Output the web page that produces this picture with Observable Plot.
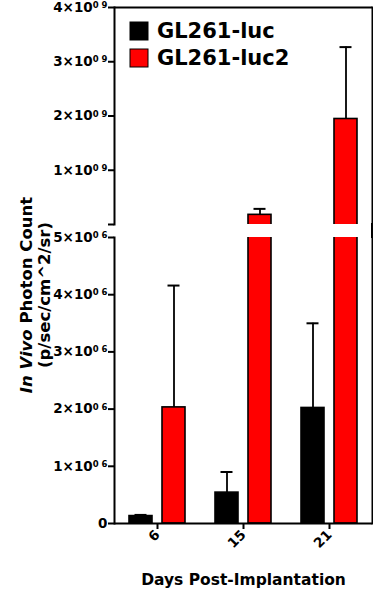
<!DOCTYPE html>
<html>
<head>
<meta charset="utf-8">
<script src="https://cdn.jsdelivr.net/npm/d3@7"></script>
<script src="https://cdn.jsdelivr.net/npm/@observablehq/plot@0.6"></script>
<style>
  body { margin: 0; background: #fff; }
  #wrap { position: relative; width: 373px; height: 600px; font-family: "DejaVu Sans", sans-serif; font-weight: bold; }
  #top, #bot { position: absolute; left: 0; }
  #top { top: 0; }
  #bot { top: 230px; }
  #overlay { position: absolute; left: 0; top: 0; pointer-events: none; }
  svg g[aria-label$="tick"] { stroke-width: 2px; }
  #top text, #bot text { font-size: 13.5px !important; font-family: "DejaVu Sans", sans-serif !important; font-weight: bold !important; }
  #top text tspan.sup, #bot text tspan.sup { font-size: 8.5px !important; }
  #bot text.xtitle { font-size: 15.5px !important; }
</style>
</head>
<body>
<div id="wrap">
  <div id="top"></div>
  <div id="bot"></div>
  <svg id="overlay" width="373" height="600"></svg>
</div>
<script>
// ---- data ----
const days = ["6", "15", "21"];
const series = ["GL261-luc", "GL261-luc2"];
const seriesColors = ["#000000", "#ff0000"];
const lucMean = [1.3e5, 5.4e5, 2.02e6];
const lucErr = [2.0e4, 3.6e5, 1.48e6];
const luc2Mean = [2.03e6, 1.78e8, 1.945e9];
const luc2Err = [2.13e6, 1.10e8, 1.325e9];
const upperTicks = [0, 1e9, 2e9, 3e9, 4e9];
const lowerTicks = [0, 1e6, 2e6, 3e6, 4e6, 5e6];
const breakValue = 5e6;
const upperMax = 4e9;
const xTitle = "Days Post-Implantation";

// table built from arrays
const rows = [];
days.forEach((d, i) => {
  rows.push({day: d, series: series[0], mean: lucMean[i], top: lucMean[i] + lucErr[i]});
  rows.push({day: d, series: series[1], mean: luc2Mean[i], top: luc2Mean[i] + luc2Err[i]});
});

const OFF = {"GL261-luc": -16.5, "GL261-luc2": 16.5};
const INSET = 31.5;
const FONT = "'DejaVu Sans', sans-serif";

function barMarks(data, extraInsetBottom) {
  const marks = [];
  for (const s of series) {
    const sub = data.filter(r => r.series === s);
    marks.push(Plot.barY(sub, {
      x: "day", y: "mean", fill: "series", stroke: "#000", strokeWidth: 1.6,
      dx: OFF[s], insetLeft: INSET, insetRight: INSET, insetBottom: extraInsetBottom, clip: true
    }));
    marks.push(Plot.ruleX(sub, {x: "day", y1: "mean", y2: "top", dx: OFF[s], stroke: "#000", strokeWidth: 1.8, clip: true}));
    marks.push(Plot.tickY(sub, {x: "day", y: "top", dx: OFF[s], insetLeft: 37, insetRight: 37, stroke: "#000", strokeWidth: 2, clip: true}));
  }
  return marks;
}

function supFmt(exp, zeroLabel) {
  return d => d === 0 ? zeroLabel : `${Math.round(d / 10 ** exp)}×10|0 ${exp}`;
}

const common = {
  width: 373,
  marginLeft: 114,
  marginRight: 1,
  style: {fontFamily: FONT, fontSize: "13px", fontWeight: "bold", color: "#000", background: "#fff"},
  color: {domain: series, range: seriesColors}
};

const upperRows = rows.filter(r => r.mean > breakValue);
const topPlot = Plot.plot({
  ...common,
  height: 230,
  marginTop: 7,
  marginBottom: 6,
  x: {domain: days, padding: 0, axis: null},
  y: {domain: [0, upperMax], ticks: upperTicks, tickFormat: supFmt(9, ""), label: null, tickSize: 6, tickPadding: 1},
  marks: [
    ...barMarks(upperRows, -4),
    Plot.ruleY([upperMax], {stroke: "#000", strokeWidth: 2}),
    Plot.frame({anchor: "left", stroke: "#000", strokeWidth: 2}),
    Plot.frame({anchor: "right", stroke: "#000", strokeWidth: 2})
  ]
});

const botPlot = Plot.plot({
  ...common,
  height: 370,
  marginTop: 7,
  marginBottom: 77,
  x: {domain: days, padding: 0, tickRotate: -45, tickSize: 6, tickPadding: 3, label: xTitle, labelAnchor: "center", labelOffset: 61},
  y: {domain: [0, breakValue], ticks: lowerTicks, tickFormat: supFmt(6, "0"), label: null, tickSize: 6, tickPadding: 1},
  marks: [
    ...barMarks(rows, 0),
    Plot.ruleY([0], {stroke: "#000", strokeWidth: 2}),
    Plot.frame({anchor: "left", stroke: "#000", strokeWidth: 2}),
    Plot.frame({anchor: "right", stroke: "#000", strokeWidth: 2})
  ]
});

document.getElementById("top").appendChild(topPlot);
document.getElementById("bot").appendChild(botPlot);

// superscripts in tick labels
for (const svg of [topPlot, botPlot]) {
  svg.querySelectorAll("text").forEach(t => {
    if (t.textContent === xTitle) { t.classList.add("xtitle"); return; }
    const m = /^(.+×10)\|(.+)$/.exec(t.textContent);
    if (!m) return;
    t.textContent = "";
    const a = document.createElementNS("http://www.w3.org/2000/svg", "tspan");
    a.textContent = m[1];
    const b = document.createElementNS("http://www.w3.org/2000/svg", "tspan");
    b.textContent = m[2];
    b.setAttribute("dy", "-0.45em");
    b.setAttribute("class", "sup");
    t.appendChild(a); t.appendChild(b);
  });
}

// overlay: y title, legend, right border across the break
const ov = d3.select("#overlay");
ov.append("line").attr("x1", 372).attr("x2", 372).attr("y1", 223).attr("y2", 238).attr("stroke", "#000").attr("stroke-width", 2);
const yt = ov.append("text").attr("transform", "translate(32,295) rotate(-90)").attr("text-anchor", "middle")
  .attr("font-size", 16.5).attr("font-weight", "bold").attr("font-family", FONT);
yt.append("tspan").attr("font-style", "italic").text("In Vivo");
yt.append("tspan").text(" Photon Count");
ov.append("text").attr("transform", "translate(50,295) rotate(-90)").attr("text-anchor", "middle")
  .attr("font-size", 16.5).attr("font-weight", "bold").attr("font-family", FONT)
  .text("(p/sec/cm^2/sr)");
series.forEach((s, i) => {
  ov.append("rect").attr("x", 130).attr("y", 22 + i * 27).attr("width", 18).attr("height", 18)
    .attr("fill", seriesColors[i]).attr("stroke", "#000").attr("stroke-width", 1);
  ov.append("text").attr("x", 157).attr("y", 38 + i * 27).attr("font-size", 21).attr("font-weight", "bold")
    .attr("font-family", FONT).text(s);
});
</script>
</body>
</html>
